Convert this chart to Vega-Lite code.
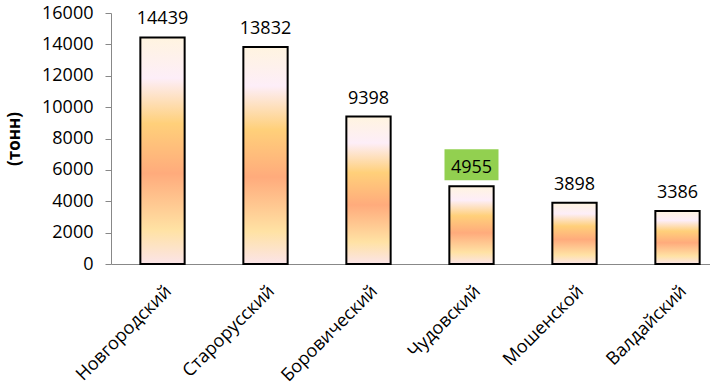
{
  "$schema": "https://vega.github.io/schema/vega-lite/v6.json",
  "width": 618,
  "height": 251,
  "autosize": {"type": "none"},
  "padding": {"left": 111, "top": 13, "right": 0, "bottom": 125},
  "background": "white",
  "config": {
    "view": {"stroke": null},
    "font": "Open Sans"
  },
  "data": {
    "values": [
      {"district": "Новгородский", "value": 14439, "highlight": false},
      {"district": "Старорусский", "value": 13832, "highlight": false},
      {"district": "Боровический", "value": 9398, "highlight": false},
      {"district": "Чудовский", "value": 4955, "highlight": true},
      {"district": "Мошенской", "value": 3898, "highlight": false},
      {"district": "Валдайский", "value": 3386, "highlight": false}
    ]
  },
  "encoding": {
    "x": {
      "field": "district",
      "type": "nominal",
      "sort": null,
      "scale": {"paddingInner": 0.57, "paddingOuter": 0.285},
      "axis": {
        "title": null,
        "labelAngle": -45,
        "labelFontSize": 18,
        "labelColor": "black",
        "labelFont": "Open Sans",
        "ticks": false,
        "domainColor": "#888888",
        "labelPadding": 18
      }
    },
    "y": {
      "field": "value",
      "type": "quantitative",
      "scale": {"domain": [0, 16000], "nice": false},
      "axis": {
        "values": [0, 2000, 4000, 6000, 8000, 10000, 12000, 14000, 16000],
        "format": "d",
        "grid": false,
        "title": "(тонн)",
        "titleFontSize": 17,
        "titleFontWeight": "bold",
        "titleColor": "black",
        "titlePadding": 18,
        "labelFontSize": 18,
        "labelColor": "black",
        "labelPadding": 12,
        "tickSize": 6,
        "tickColor": "#888888",
        "domainColor": "#888888"
      }
    }
  },
  "layer": [
    {
      "mark": {
        "type": "bar",
        "stroke": "black",
        "strokeWidth": 2,
        "fill": {
          "gradient": "linear",
          "x1": 0, "y1": 0, "x2": 0, "y2": 1,
          "stops": [
            {"offset": 0, "color": "#fff4e0"},
            {"offset": 0.18, "color": "#fdeef8"},
            {"offset": 0.38, "color": "#ffd07a"},
            {"offset": 0.6, "color": "#ffab7c"},
            {"offset": 0.85, "color": "#ffe2a4"},
            {"offset": 1, "color": "#fbe4e8"}
          ]
        }
      }
    },
    {
      "transform": [{"filter": "datum.highlight"}],
      "mark": {"type": "rect", "fill": "#92d050", "width": 54, "height": 31, "yOffset": -21.5}
    },
    {
      "mark": {"type": "text", "baseline": "bottom", "dy": -9, "fontSize": 18, "color": "black"},
      "encoding": {"text": {"field": "value", "type": "quantitative", "format": "d"}}
    }
  ]
}
